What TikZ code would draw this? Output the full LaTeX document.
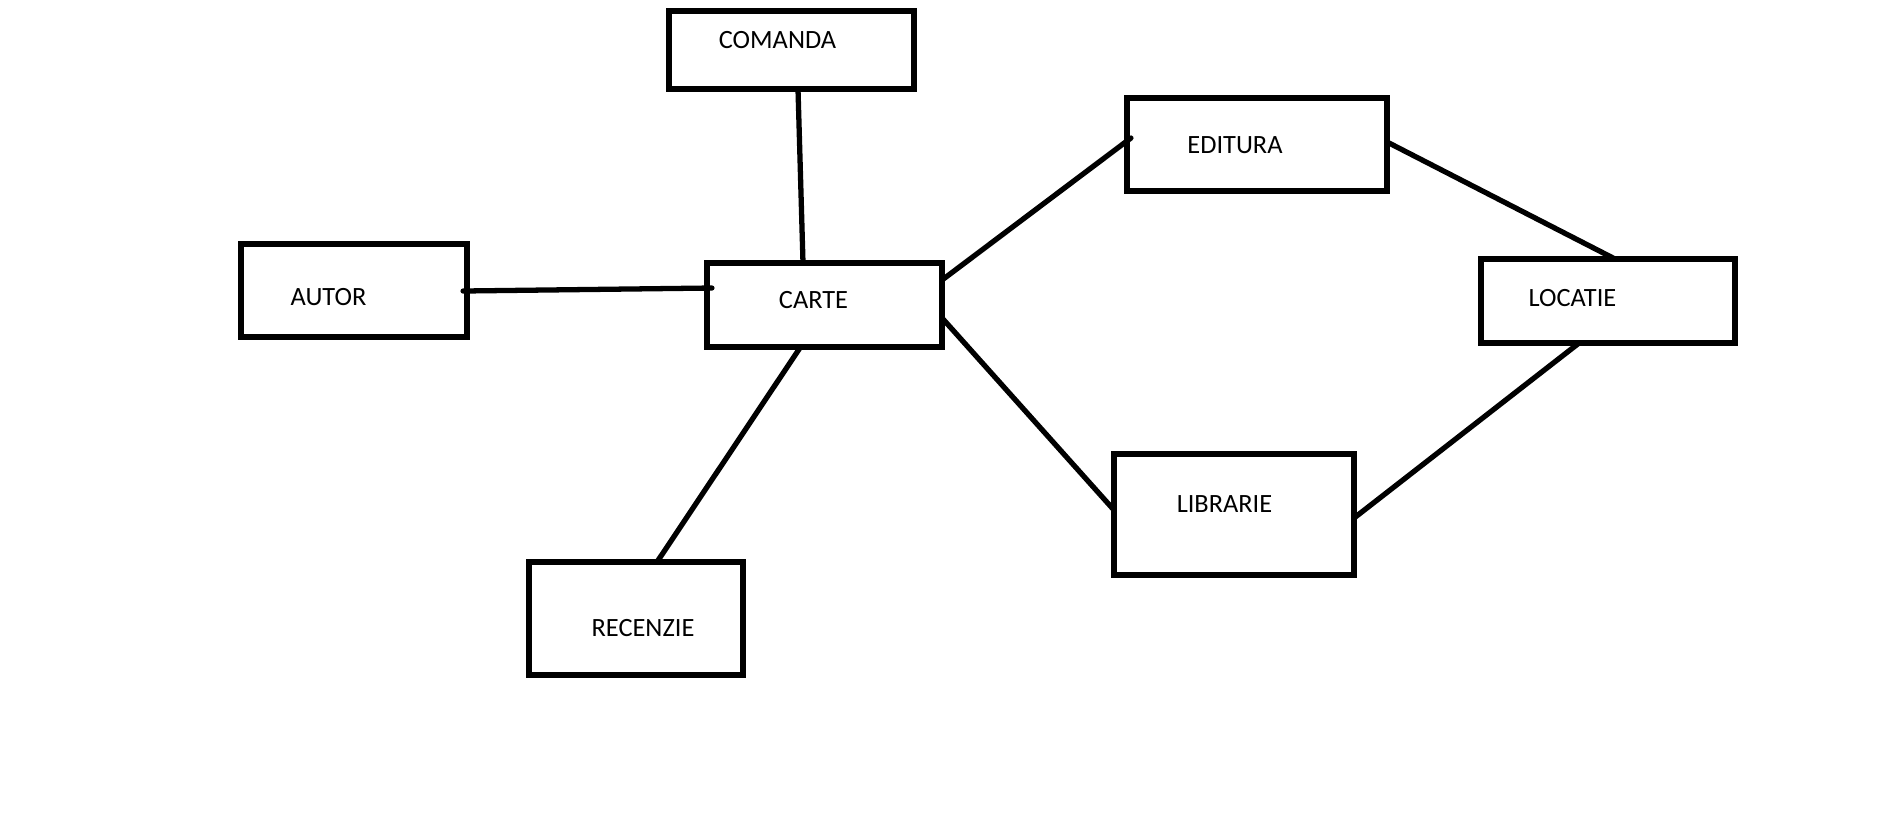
\documentclass[tikz,border=0pt]{standalone}
\usepackage{fontspec}
\setmainfont{Carlito}
\usetikzlibrary{calc}

\begin{document}
\begin{tikzpicture}[x=0.01cm,y=-0.01cm,
    entity/.style={draw=black,line width=1.5pt,inner sep=0pt,outer sep=0pt},
    lbl/.style={font=\fontsize{7.5}{9}\selectfont,inner sep=0pt},
    link/.style={line width=1.5pt,line cap=round}
  ]
    \fill[white] (0,0) rectangle (1881,817);
    \useasboundingbox (0,0) rectangle (1881,817);

    % Entities
    \node[entity,minimum width=2.45cm,minimum height=0.78cm] (comanda)  at (791.5,50)   {};
    \node[entity,minimum width=2.35cm,minimum height=0.84cm] (carte)    at (824.5,305)  {};
    \node[entity,minimum width=2.26cm,minimum height=0.93cm] (autor)    at (354,290.5)  {};
    \node[entity,minimum width=2.60cm,minimum height=0.93cm] (editura)  at (1257,144.5) {};
    \node[entity,minimum width=2.54cm,minimum height=0.84cm] (locatie)  at (1608,301)   {};
    \node[entity,minimum width=2.40cm,minimum height=1.21cm] (librarie) at (1234,514.5) {};
    \node[entity,minimum width=2.14cm,minimum height=1.13cm] (recenzie) at (636,618.5)  {};

    % Names
    \node[lbl] (comanda_t)  at (777.5,40.5)  {COMANDA};
    \node[lbl] (carte_t)    at (813.5,300)   {CARTE};
    \node[lbl] (autor_t)    at (328.5,297)   {AUTOR};
    \node[lbl] (editura_t)  at (1235,145)    {EDITURA};
    \node[lbl] (locatie_t)  at (1572.5,298.5){LOCATIE};
    \node[lbl] (librarie_t) at (1224.5,504.5){LIBRARIE};
    \node[lbl] (recenzie_t) at (643,628.5)   {RECENZIE};

    % Links
    \draw[link] ($(comanda.south)+(6.5,0)$) -- ($(carte.north)+(-21.5,0)$);
    \draw[link] ($(autor.east)+(-4,0.5)$) -- ($(carte.west)+(5,-17)$);
    \draw[link] ($(carte.east)+(0,-25)$) -- ($(editura.west)+(4,-6.5)$);
    \draw[link] ($(carte.east)+(0,13)$) -- ($(librarie.west)+(0,-4.5)$);
    \draw[link] ($(carte.south)+(-24,0)$) -- ($(recenzie.north)+(21,0)$);
    \draw[link] ($(editura.east)+(0,-2.5)$) -- ($(locatie.north)+(7,0)$);
    \draw[link] ($(librarie.east)+(0,3.5)$) -- ($(locatie.south)+(-29,0)$);
\end{tikzpicture}
\end{document}
